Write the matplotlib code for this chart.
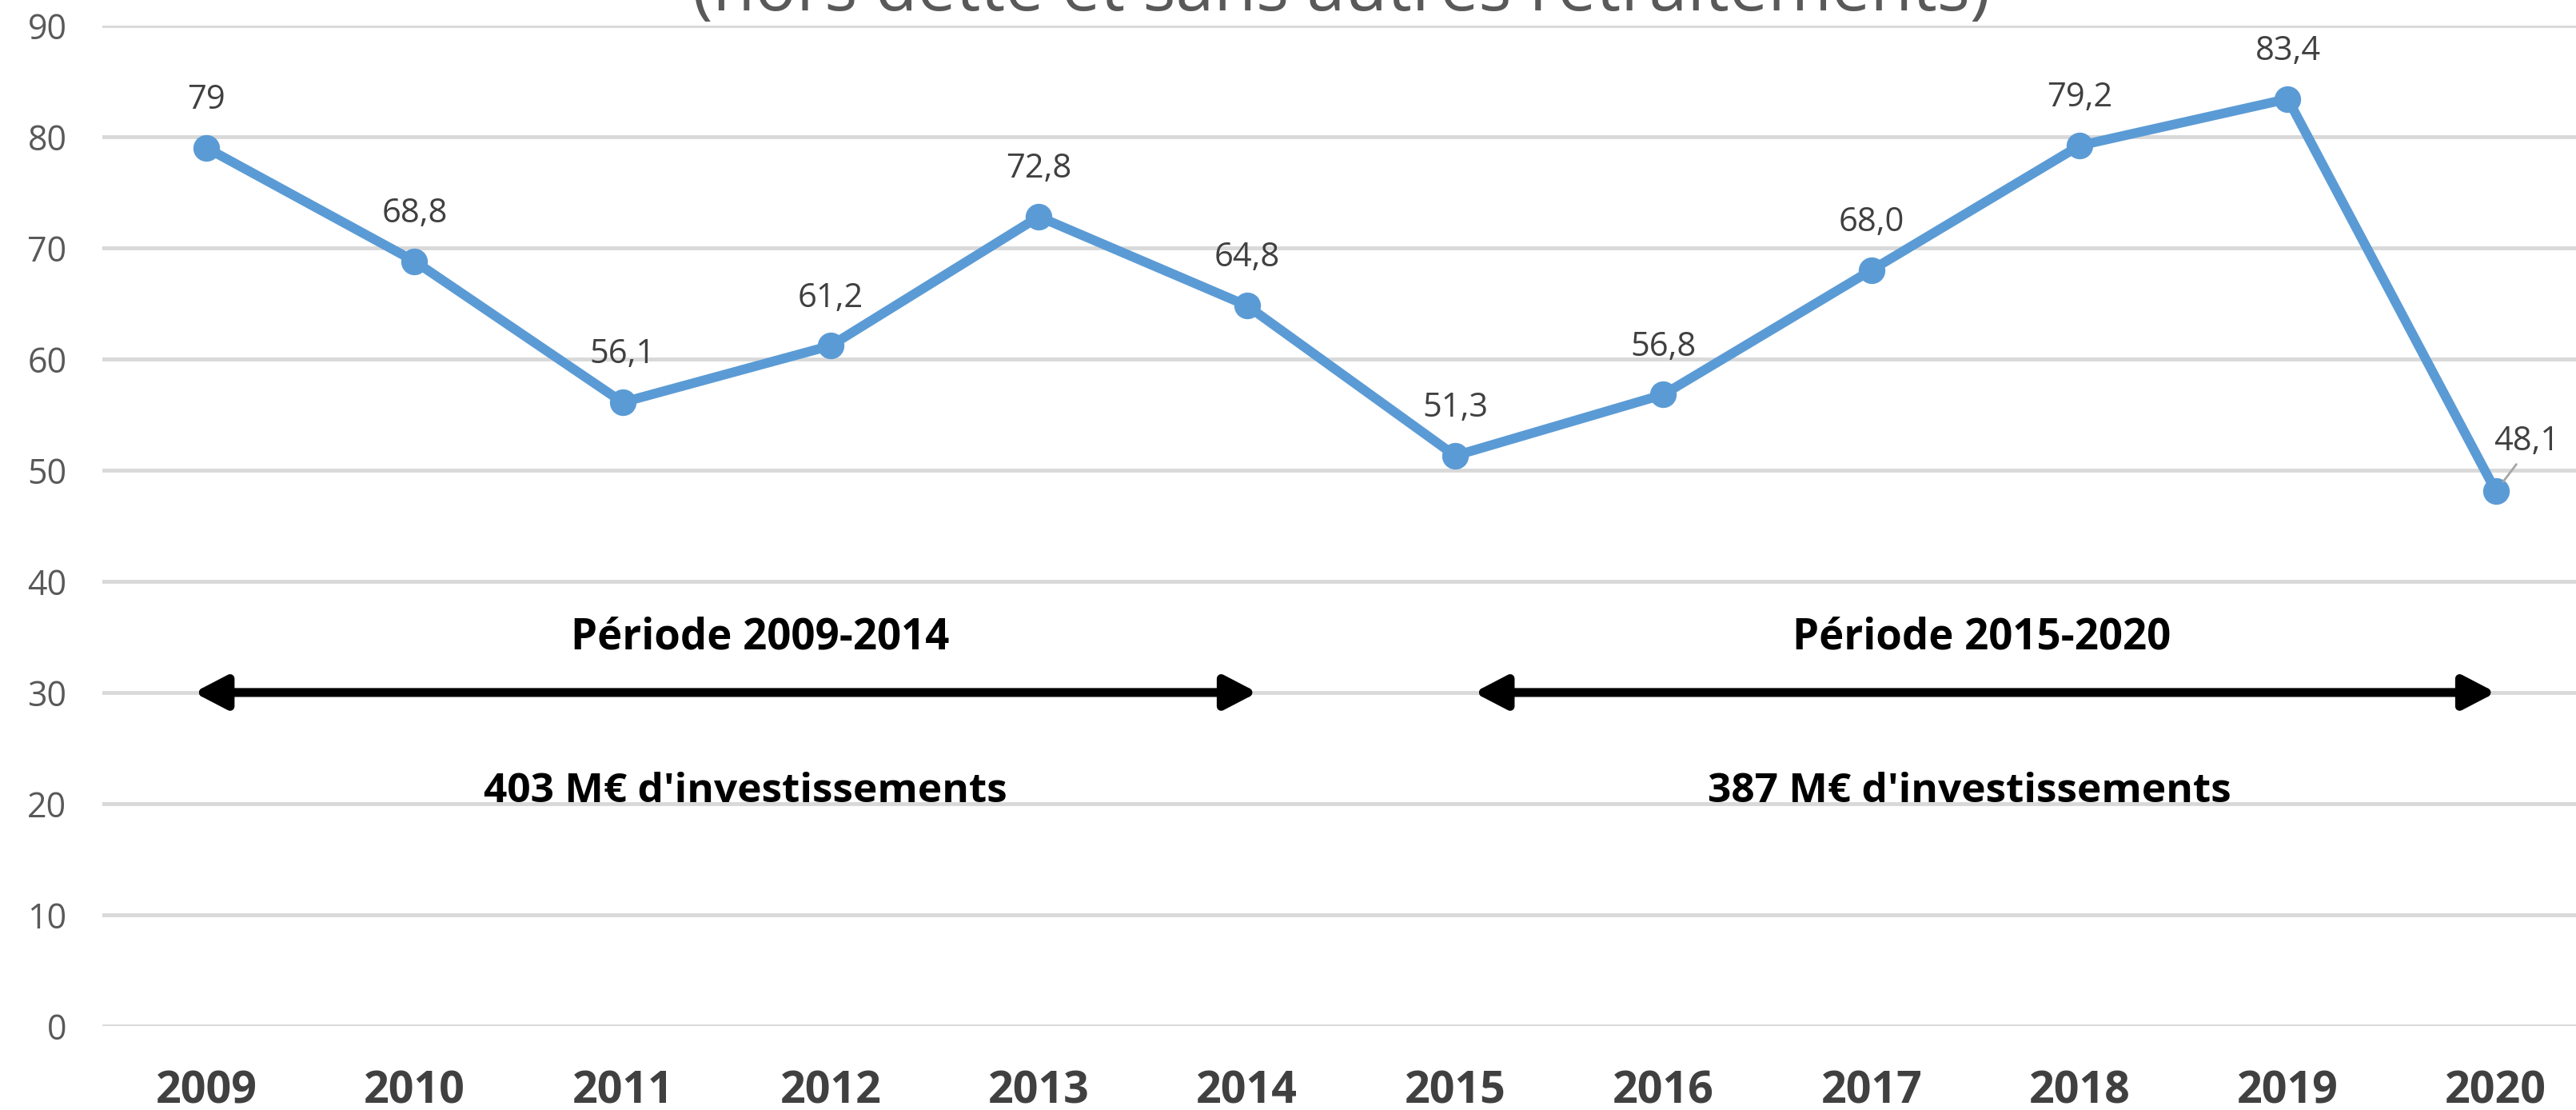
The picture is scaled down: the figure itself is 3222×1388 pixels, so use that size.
import matplotlib
matplotlib.use('Agg')
import matplotlib.pyplot as plt
import matplotlib.patheffects as pe

plt.rcParams['font.family'] = ['Open Sans', 'DejaVu Sans']

# data (M€ investments per year)
years = ['2009', '2010', '2011', '2012', '2013', '2014',
         '2015', '2016', '2017', '2018', '2019', '2020']
values = [79, 68.8, 56.1, 61.2, 72.8, 64.8, 51.3, 56.8, 68.0, 79.2, 83.4, 48.1]
value_labels = ['79', '68,8', '56,1', '61,2', '72,8', '64,8',
                '51,3', '56,8', '68,0', '79,2', '83,4', '48,1']

periods = ['Période 2009-2014', 'Période 2015-2020']
period_totals = ["403 M€ d'investissements", "387 M€ d'investissements"]
period_start = [-0.06, 6.09]
period_end = [5.05, 11.0]
# where the captions sit (x of the title / total line)
caption_x = [2.66, 8.53]
total_x = [2.59, 8.47]

title = '(hors dette et sans autres retraitements)'

blue = '#5B9BD5'
grid_grey = '#D9D9D9'

fig = plt.figure(figsize=(32.22, 13.88), dpi=100)
ax = fig.add_axes([0.0397, 0.0757, 0.9696, 0.9013])

x = list(range(len(years)))
ax.plot(x, values, color=blue, lw=8.6, marker='o', markersize=24,
        markeredgewidth=0, solid_joinstyle='round', zorder=5)

# data labels above the points, last one shifted with a leader line
for i, (v, lab) in enumerate(zip(values, value_labels)):
    if i == len(values) - 1:
        ax.annotate(lab, (i, v), xytext=(28, 45), textcoords='offset points',
                    ha='center', va='center', fontsize=30, color='#404040',
                    arrowprops=dict(arrowstyle='-', color='#a6a6a6', lw=2,
                                    relpos=(0.41, 0), shrinkA=7, shrinkB=11,
                                    patchA=None),
                    zorder=6)
    else:
        ax.annotate(lab, (i, v), xytext=(0, 43), textcoords='offset points',
                    ha='center', va='center', fontsize=30, color='#404040',
                    zorder=6)

# period arrows and captions
for p, tot, a, b, cx, tx in zip(periods, period_totals, period_start,
                                period_end, caption_x, total_x):
    ax.annotate('', xy=(b, 30), xytext=(a, 30),
                arrowprops=dict(arrowstyle='<|-|>,head_length=2.4,head_width=1.25',
                                mutation_scale=10, lw=8, color='black',
                                shrinkA=0, shrinkB=0,
                                path_effects=[pe.withSimplePatchShadow(
                                    offset=(0, -3), shadow_rgbFace='#808080',
                                    alpha=0.7)]),
                zorder=4)
    ax.text(cx, 34.9, p, ha='center', va='center', fontsize=38,
            fontweight='bold', color='black')
    ax.text(tx, 21.1, tot, ha='center', va='center', fontsize=37,
            fontweight='bold', color='black')

ax.set_xlim(-0.5, 11.5)
ax.set_ylim(0, 90)
ax.set_yticks(range(0, 91, 10))
ax.set_xticks(x)
ax.set_xticklabels(years, fontsize=40, fontweight='bold', color='#404040')
ax.tick_params(axis='y', length=0, pad=32, labelsize=31, labelcolor='#595959')
ax.tick_params(axis='x', length=0, pad=39)
ax.grid(axis='y', color=grid_grey, lw=3.5)
ax.set_axisbelow(True)
for s in ax.spines.values():
    s.set_visible(False)

# title, cut off by the top of the picture as in the source
fig.text(0.5208, 0.9906, title, ha='center', va='baseline', fontsize=62,
         color='#595959')

fig.savefig('out.png', dpi=100)
